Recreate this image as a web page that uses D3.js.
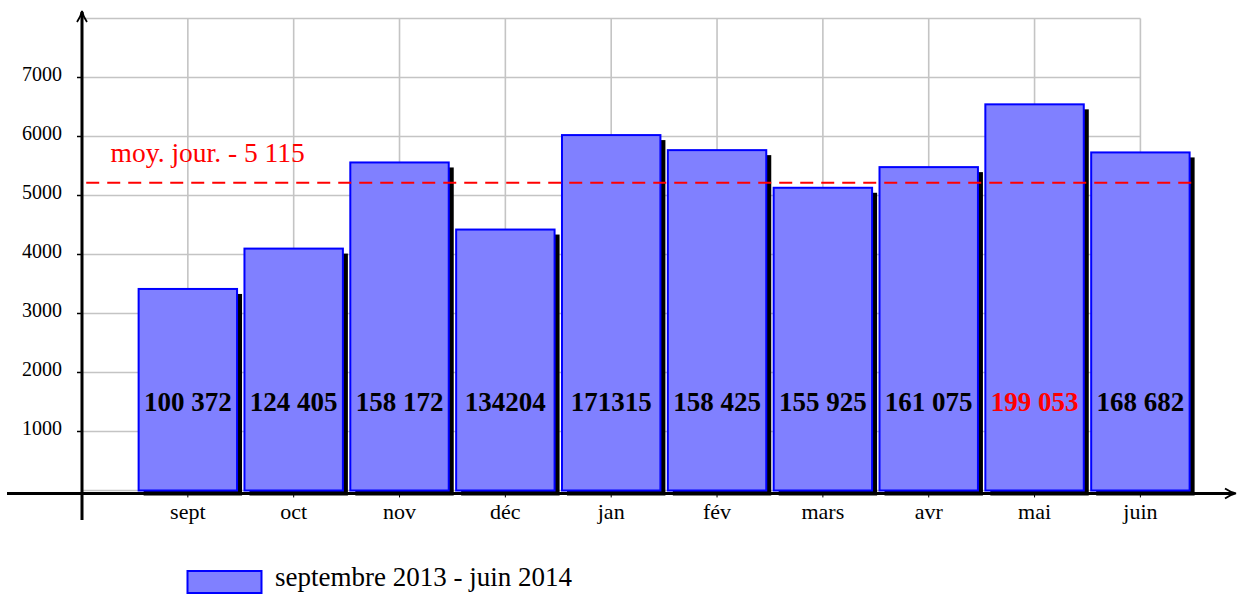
<!DOCTYPE html>
<html>
<head>
<meta charset="utf-8">
<script src="https://cdn.jsdelivr.net/npm/d3@7"></script>
<style>
  body { margin: 0; background: #fff; }
  svg text { font-family: "Liberation Serif", "DejaVu Serif", serif; }
</style>
</head>
<body>
<div id="container"></div>
<script>
var months = ['sept', 'oct', 'nov', 'déc', 'jan', 'fév', 'mars', 'avr', 'mai', 'juin'],
    daily = [3416, 4100, 5560, 4423, 6024, 5769, 5131, 5481, 6545, 5730],
    totals = ['100 372', '124 405', '158 172', '134204', '171315', '158 425', '155 925', '161 075', '199 053', '168 682'],
    yTicks = [1000, 2000, 3000, 4000, 5000, 6000, 7000],
    meanLabel = 'moy. jour. - 5 115',
    legendLabel = 'septembre 2013 - juin 2014';

var width = 1239,
    height = 595,
    barHalf = 0.465,
    fillColor = '#8080ff',
    strokeColor = '#0000ff',
    svg, x, y, meanVal, maxIdx;

svg = d3.select('#container').append('svg')
  .attr('width', width)
  .attr('height', height);

x = d3.scaleLinear().domain([0, 10]).range([82, 1140.4]);
y = d3.scaleLinear().domain([0, 8000]).range([490.5, 18.5]);

meanVal = d3.mean(daily);
maxIdx = daily.indexOf(d3.max(daily));

// grid
var grid = svg.append('g')
  .attr('stroke', '#c4c4c4')
  .attr('stroke-width', 1.6);

grid.selectAll('line.v')
  .data(d3.range(0, 11))
  .enter().append('line')
  .attr('x1', function (d) { return x(d); })
  .attr('x2', function (d) { return x(d); })
  .attr('y1', y(0))
  .attr('y2', y(8000));

grid.selectAll('line.h')
  .data(d3.range(0, 8001, 1000))
  .enter().append('line')
  .attr('x1', x(0))
  .attr('x2', x(10))
  .attr('y1', function (d) { return y(d); })
  .attr('y2', function (d) { return y(d); });

// shadows
svg.selectAll('rect.shadow')
  .data(daily)
  .enter().append('rect')
  .attr('class', 'shadow')
  .attr('x', function (d, i) { return x(i + 1 - barHalf) + 5; })
  .attr('y', function (d) { return y(d) + 5; })
  .attr('width', x(2 * barHalf) - x(0))
  .attr('height', function (d) { return y(0) - y(d); })
  .attr('fill', '#000');

// bars
svg.selectAll('rect.bar')
  .data(daily)
  .enter().append('rect')
  .attr('class', 'bar')
  .attr('x', function (d, i) { return x(i + 1 - barHalf); })
  .attr('y', function (d) { return y(d); })
  .attr('width', x(2 * barHalf) - x(0))
  .attr('height', function (d) { return y(0) - y(d); })
  .attr('fill', fillColor)
  .attr('stroke', strokeColor)
  .attr('stroke-width', 2);

// totals inside bars
svg.selectAll('text.total')
  .data(totals)
  .enter().append('text')
  .attr('x', function (d, i) { return x(i + 1); })
  .attr('y', y(1500) + 9)
  .attr('text-anchor', 'middle')
  .attr('font-size', 27)
  .attr('font-weight', 'bold')
  .attr('fill', function (d, i) { return i === maxIdx ? '#ff0000' : '#000'; })
  .text(function (d) { return d; });

// mean line
svg.append('line')
  .attr('x1', x(0.04))
  .attr('x2', x(10.5))
  .attr('y1', y(meanVal))
  .attr('y2', y(meanVal))
  .attr('stroke', '#ff0000')
  .attr('stroke-width', 2)
  .attr('stroke-dasharray', '13,8');

svg.append('text')
  .attr('x', x(0.27))
  .attr('y', y(meanVal) - 21)
  .attr('font-size', 27.5)
  .attr('fill', '#ff0000')
  .text(meanLabel);

// axes
var axes = svg.append('g')
  .attr('stroke', '#000')
  .attr('fill', 'none');

axes.append('line')
  .attr('x1', x(0)).attr('x2', x(0))
  .attr('y1', y(-500)).attr('y2', 12)
  .attr('stroke-width', 3);

axes.append('line')
  .attr('x1', 7).attr('x2', 1234)
  .attr('y1', y(-50)).attr('y2', y(-50))
  .attr('stroke-width', 3);

// arrow heads
axes.append('path')
  .attr('d', 'M' + (x(0) - 5) + ',22 Q' + (x(0) - 1) + ',16 ' + x(0) + ',11 Q' + (x(0) + 1) + ',16 ' + (x(0) + 5) + ',22')
  .attr('stroke-width', 1.8);

axes.append('path')
  .attr('d', 'M1225,' + (y(-50) - 5) + ' Q1231,' + (y(-50) - 1) + ' 1236,' + y(-50) + ' Q1231,' + (y(-50) + 1) + ' 1225,' + (y(-50) + 5))
  .attr('stroke-width', 1.8);

// y ticks
axes.selectAll('line.ytick')
  .data(yTicks)
  .enter().append('line')
  .attr('x1', x(0) - 5)
  .attr('x2', x(0))
  .attr('y1', function (d) { return y(d); })
  .attr('y2', function (d) { return y(d); })
  .attr('stroke-width', 1.5);

svg.selectAll('text.ylab')
  .data(yTicks)
  .enter().append('text')
  .attr('x', 62)
  .attr('y', function (d) { return y(d) + 3.5; })
  .attr('text-anchor', 'end')
  .attr('font-size', 20)
  .attr('fill', '#000')
  .text(function (d) { return d; });

// x ticks
axes.selectAll('line.xtick')
  .data(months)
  .enter().append('line')
  .attr('x1', function (d, i) { return x(i + 1); })
  .attr('x2', function (d, i) { return x(i + 1); })
  .attr('y1', y(-50))
  .attr('y2', y(-50) + 4)
  .attr('stroke-width', 1);

svg.selectAll('text.xlab')
  .data(months)
  .enter().append('text')
  .attr('x', function (d, i) { return x(i + 1); })
  .attr('y', 519)
  .attr('text-anchor', 'middle')
  .attr('font-size', 22)
  .attr('fill', '#000')
  .text(function (d) { return d; });

// legend
svg.append('rect')
  .attr('x', 187.5)
  .attr('y', 571)
  .attr('width', 74)
  .attr('height', 22)
  .attr('fill', fillColor)
  .attr('stroke', strokeColor)
  .attr('stroke-width', 2);

svg.append('text')
  .attr('x', 275)
  .attr('y', 586)
  .attr('font-size', 27)
  .attr('fill', '#000')
  .text(legendLabel);
</script>
</body>
</html>
